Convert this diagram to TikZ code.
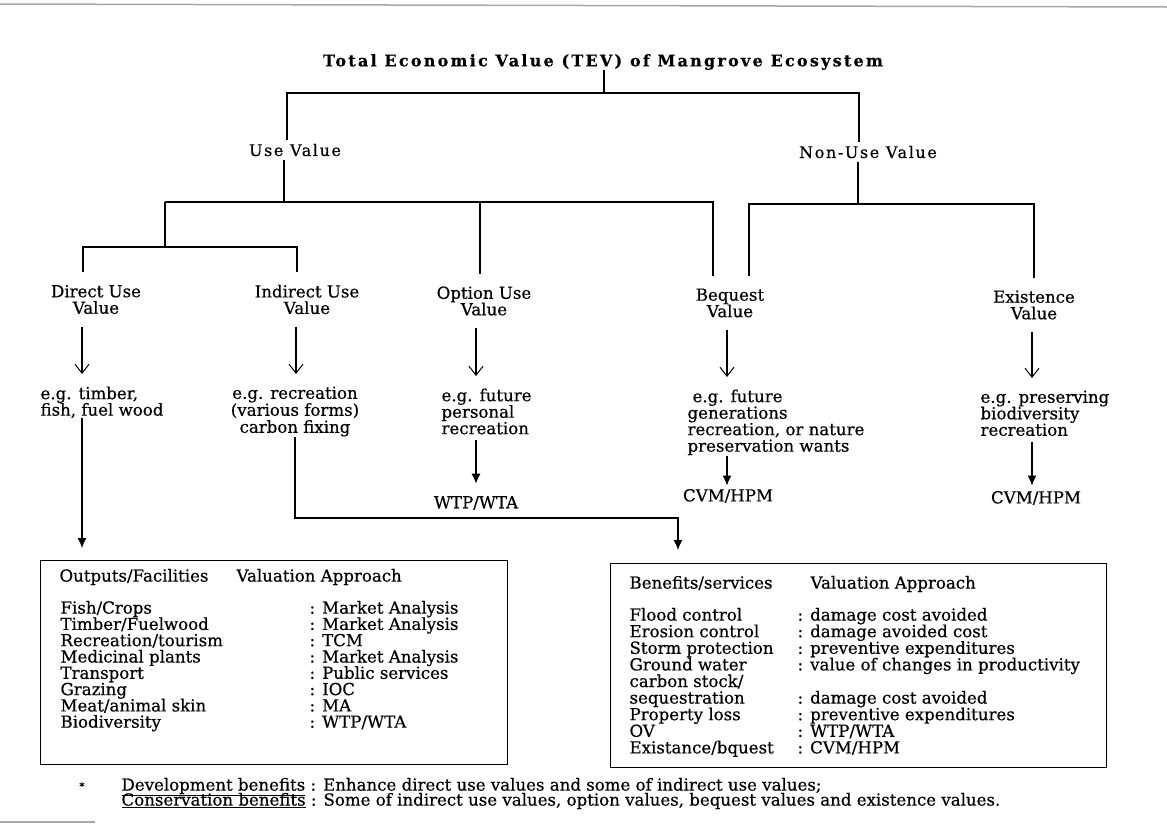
\documentclass[tikz,border=0pt]{standalone}
\usepackage{fontspec}
\setmainfont{DejaVu Serif}[FakeBold=0.5]
\usetikzlibrary{arrows.meta}
\newcommand\fsA{\fontsize{16.6}{16.5}\selectfont}
\newcommand\fsUse{\fontsize{16}{18}\selectfont\addfontfeature{LetterSpace=10}}
\newcommand\fsTitle{\fontsize{16}{18}\selectfont\bfseries\addfontfeature{LetterSpace=14}}
\begin{document}
\begin{tikzpicture}[x=1pt,y=-1pt,line width=1.1pt,
  tx/.style={font=\fsA, inner sep=0pt},
  lvl/.style={tx, align=center, inner ysep=12pt},
  exl/.style={tx, align=left, anchor=north west},
  exc/.style={tx, align=center, anchor=north},
  row/.style={tx, anchor=mid west},
  openarr/.style={-{Straight Barb[length=9pt,width=14pt,line width=1pt]}, shorten >=12pt},
  fillarr/.style={-{Latex[length=10pt,width=9pt]}},
  boxst/.style={draw, line width=1.1pt, inner sep=0pt, anchor=north west},
  rule/.style={draw=gray!70, line width=1.5pt}]
\useasboundingbox (0,0) rectangle (1167,825);
\draw[rule] (0,4) -- (1167,7);
\draw[rule] (0,822) -- (95,822);

% title and first level
\node[font=\fsTitle, inner sep=0pt] (title) at (603,62) {Total Economic Value (TEV) of Mangrove Ecosystem};
\node[font=\fsUse, inner sep=3pt] (use) at (295,150) {Use Value};
\node[font=\fsUse, inner sep=3pt] (nonuse) at (868,152) {Non-Use Value};
\coordinate (t0) at (604,93);
\coordinate (uL) at (287,93);
\coordinate (uR) at (859,93);
\draw (title.south -| t0) -- (t0);
\draw (uL |- use.north) -- (uL) -- (uR) -- (uR |- nonuse.north);

% second level
\node[lvl] (direct) at (96,299.5) {Direct Use\\Value};
\node[lvl] (indirect) at (307,299.5) {Indirect Use\\Value};
\node[lvl] (option) at (484,301) {Option Use\\Value};
\node[lvl] (bequest) at (730,303) {Bequest\\Value};
\node[lvl] (exist) at (1034,305) {Existence\\Value};

\coordinate (u0) at (284,202);
\coordinate (u1) at (165,202);
\coordinate (u2) at (713,202);
\coordinate (uo) at (480,202);
\draw (u0 |- use.south) -- (u0);
\draw (u1) -- (u2) -- (u2 |- bequest.north);
\draw (uo) -- (uo |- option.north);
\coordinate (d0) at (165,247);
\coordinate (dL) at (83,247);
\coordinate (dR) at (297,247);
\draw (u1) -- (d0);
\draw (dL |- direct.north) -- (dL) -- (dR) -- (dR |- indirect.north);
\coordinate (n0) at (858,204);
\coordinate (nL) at (749,204);
\coordinate (nR) at (1034,204);
\draw (n0 |- nonuse.south) -- (n0);
\draw (nL |- bequest.north) -- (nL) -- (nR) -- (nR |- exist.north);

% examples
\node[exl] (exd) at (40,386) {e.g. timber,\\fish, fuel wood};
\node[exc,font={\fontsize{16.6}{17}\selectfont}] (exi) at (295,386) {e.g. recreation\\(various forms)\\carbon fixing};
\node[exl] (exo) at (441,388) {e.g. future\\personal\\recreation};
\node[exl] (exb) at (687,389) {\hspace{5pt}e.g. future\\generations\\recreation, or nature\\preservation wants};
\node[exl] (exe) at (980,390) {e.g. preserving\\biodiversity\\recreation};

\coordinate (xd) at (82,0);
\coordinate (xi) at (296,0);
\coordinate (xo) at (476,0);
\coordinate (xb) at (727,0);
\coordinate (xe) at (1032,0);
\draw[openarr] (direct.south -| xd) -- (exd.north -| xd);
\draw[openarr] (indirect.south -| xi) -- (exi.north -| xi);
\draw[openarr] (option.south -| xo) -- (exo.north -| xo);
\draw[openarr] (bequest.south -| xb) -- (exb.north -| xb);
\draw[openarr] (exist.south -| xe) -- (exe.north -| xe);

% results
\node[tx] (wtp) at (476,503) {WTP/WTA};
\node[tx] (cvma) at (728,496) {CVM/HPM};
\node[tx] (cvmb) at (1036,498) {CVM/HPM};
\draw[fillarr, shorten <=5pt, shorten >=12pt] (exo.south -| xo) -- (wtp.north -| xo);
\draw[fillarr, shorten >=3pt] (exb.south -| xb) -- (cvma.north -| xb);
\draw[fillarr, shorten <=5pt, shorten >=5pt] (exe.south -| xe) -- (cvmb.north -| xe);

% boxes
\node[boxst, minimum width=467pt, minimum height=204pt] (lbox) at (40,560) {};
\node[boxst, minimum width=496pt, minimum height=204pt] (rbox) at (610,563) {};
\coordinate (ij) at (678,518);
\draw[fillarr, shorten >=12pt] (exd.south -| xd) -- (lbox.north -| xd);
\draw[fillarr, shorten >=13pt] (exi.south) |- (ij) -- (ij |- rbox.north);

% left box content
\node[row] (lh1) at (59,579) {Outputs/Facilities};
\node[row] (lh2) at (236,579) {Valuation Approach};
\foreach \n/\v [count=\i from 0] in {{Fish/Crops}/{: Market Analysis},{Timber/Fuelwood}/{: Market Analysis},
  {Recreation/tourism}/{: TCM},{Medicinal plants}/{: Market Analysis},{Transport}/{: Public services},
  {Grazing}/{: IOC},{Meat/animal skin}/{: MA},{Biodiversity}/{: WTP/WTA}}{
  \node[row] (ln\i) at (60,611+16.3*\i) {\n};
  \node[row] (lv\i) at (309,611+16.3*\i) {\v};
}

% right box content
\node[row] (rh1) at (629,586) {Benefits/services};
\node[row] (rh2) at (810,586) {Valuation Approach};
\foreach \n/\v [count=\i from 0] in {{Flood control}/{: damage cost avoided},{Erosion control}/{: damage avoided cost},
  {Storm protection}/{: preventive expenditures},{Ground water}/{: value of changes in productivity},
  {carbon stock/}/{},{sequestration}/{: damage cost avoided},{Property loss}/{: preventive expenditures},
  {OV}/{: WTP/WTA},{Existance/bquest}/{: CVM/HPM}}{
  \node[row] (rn\i) at (629,618+16.6*\i) {\n};
  \node[row] (rv\i) at (797,618+16.6*\i) {\v};
}

% footnote
\node[tx, font=\fontsize{10}{10}\selectfont] (star) at (82,786) {*};
\node[row] (f1) at (121,788) {\underline{Development benefits} : Enhance direct use values and some of indirect use values;};
\node[row] (f2) at (121,803) {\underline{Conservation benefits} : Some of indirect use values, option values, bequest values and existence values.};
\end{tikzpicture}
\end{document}
